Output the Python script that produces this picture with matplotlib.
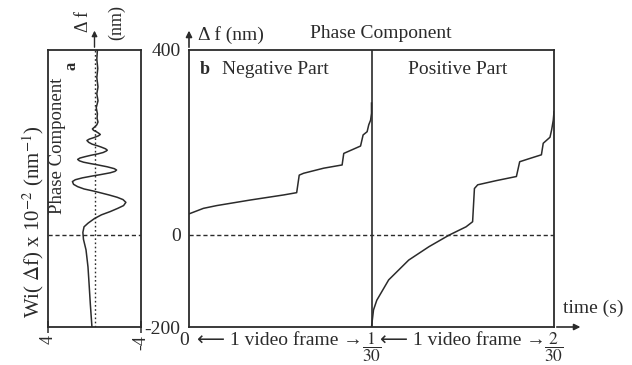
import matplotlib.pyplot as plt

plt.rcParams['font.family'] = ['Liberation Serif', 'DejaVu Serif']
plt.rcParams['mathtext.fontset'] = 'stix'

INK = '#2b2b2b'

# panel a: Wi(df) phase component, df in nm, Wi in 1e-2 nm^-1
df_a = [-200, -150, -105, -70, -33, -10, 5, 17, 25, 35, 43, 50, 57, 63, 70,
        76, 81, 86, 94, 99, 104, 109, 115, 119, 123, 127, 130, 134, 137, 140,
        143, 147, 151, 154, 157, 160, 163, 166, 169, 172, 175, 178, 181, 183,
        186, 190, 193, 196, 200, 204, 207, 210, 214, 217, 220, 223, 226, 229,
        233, 238, 244, 252, 262, 275, 290, 305, 320, 340, 360, 380, 400]
wi_a = [0.22, 0.36, 0.47, 0.56, 0.73, 0.95, 1.0, 0.9, 0.55, 0.0, -0.6, -1.35,
        -2.0, -2.5, -2.7, -2.45, -1.95, -1.25, 0.0, 0.9, 1.45, 1.8, 1.9, 1.65,
        1.05, 0.2, -0.5, -1.35, -1.75, -1.9, -1.7, -1.1, -0.3, 0.35, 0.95, 1.3,
        1.45, 1.25, 0.8, 0.3, -0.3, -0.75, -1.0, -1.1, -0.95, -0.55, -0.2, 0.2,
        0.5, 0.65, 0.45, 0.08, -0.33, -0.5, -0.35, -0.16, 0.08, 0.18, 0.0,
        -0.2, -0.3, -0.22, -0.25, -0.15, -0.3, -0.2, -0.3, -0.2, -0.28, -0.2,
        -0.25]

# panel b: time in video frames (1 frame = 1/30 s), df in nm
neg_t = [0, 0.079, 0.152, 0.335, 0.518, 0.59, 0.604, 0.628, 0.738, 0.839,
         0.848, 0.94, 0.954, 0.976, 0.985, 0.995, 1.0, 1.0]
neg_df = [45, 57, 63, 75, 86, 91, 129, 133, 144, 151, 176, 192, 216, 223,
          238, 248, 263, 285]
pos_t = [1.0, 1.011, 1.029, 1.094, 1.204, 1.315, 1.425, 1.518, 1.554, 1.564,
         1.582, 1.683, 1.794, 1.812, 1.867, 1.931, 1.941, 1.978, 1.987,
         1.996, 2.0]
pos_df = [-200, -163, -142, -98, -55, -26, -1, 17, 28, 100, 108, 117, 126,
          158, 165, 173, 198, 211, 227, 248, 266]

frame_ticks = [1, 2]
frame_nums = ['1', '2']

fig = plt.figure(figsize=(6.32, 3.65), dpi=100)

# ---------- panel a ----------
axa = fig.add_axes([48 / 632, 1 - 327 / 365, 93 / 632, 277 / 365])
axa.plot(wi_a, df_a, color=INK, lw=1.1)
axa.axhline(0, color=INK, lw=1.0, ls=(0, (3, 2)))
axa.axvline(0, color=INK, lw=1.0, ls=(0, (1.2, 1.8)))
axa.set_xlim(4, -4)
axa.set_ylim(-200, 400)
axa.set_xticks([4, -4])
axa.set_xticklabels(['4', '-4'], rotation=90, fontsize=13, color=INK)
axa.tick_params(axis='x', direction='inout', length=8, width=1.1, pad=2, colors=INK)
axa.set_yticks([])
for s in axa.spines.values():
    s.set_linewidth(1.3)
    s.set_color(INK)
axa.annotate('', xy=(0, 1.08), xytext=(0, 1.0), xycoords=('data', 'axes fraction'),
             arrowprops=dict(arrowstyle='-|>', color=INK, lw=1.0, mutation_scale=8))

fig.text(33 / 632, 1 - 222 / 365, r'Wi( $\Delta$f) x 10$^{-2}$ (nm$^{-1}$)',
         rotation=90, ha='center', va='center', fontsize=15, color=INK)
fig.text(57 / 632, 1 - 146 / 365, 'Phase Component', rotation=90,
         ha='center', va='center', fontsize=13.5, color=INK)
fig.text(72 / 632, 1 - 66 / 365, 'a', rotation=90, ha='center', va='center',
         fontsize=12, fontweight='bold', color=INK)
fig.text(84 / 632, 1 - 22 / 365, '\u0394 f', rotation=90, ha='center',
         va='center', fontsize=13, color=INK)
fig.text(117 / 632, 1 - 22 / 365, '(nm)', rotation=90, ha='center',
         va='center', fontsize=13, color=INK)

# ---------- panel b ----------
axb = fig.add_axes([189 / 632, 1 - 327 / 365, 365 / 632, 277 / 365])
axb.plot(neg_t, neg_df, color=INK, lw=1.1)
axb.plot(pos_t, pos_df, color=INK, lw=1.1)
axb.axhline(0, color=INK, lw=1.0, ls=(0, (3, 2)))
axb.axvline(1, color=INK, lw=1.2)
axb.set_xlim(0, 2)
axb.set_ylim(-200, 400)
axb.set_yticks([-200, 0, 400])
axb.set_yticklabels(['-200', '0', '400'], fontsize=14, color=INK)
axb.tick_params(axis='y', length=0, pad=6)
axb.set_xticks([])
for s in axb.spines.values():
    s.set_linewidth(1.3)
    s.set_color(INK)
axb.annotate('', xy=(0, 1.08), xytext=(0, 1.0), xycoords='axes fraction',
             arrowprops=dict(arrowstyle='-|>', color=INK, lw=1.2, mutation_scale=9))
axb.annotate('', xy=(1.08, 0), xytext=(1.0, 0), xycoords='axes fraction',
             arrowprops=dict(arrowstyle='-|>', color=INK, lw=1.2, mutation_scale=9))

axb.text(0.025, 1.054, '\u0394 f (nm)', transform=axb.transAxes, ha='left',
         va='center', fontsize=14, color=INK)
axb.text(0.526, 1.061, 'Phase Component', transform=axb.transAxes, ha='center',
         va='center', fontsize=14, color=INK)
axb.text(0.03, 0.928, 'b', transform=axb.transAxes, ha='left', va='center',
         fontsize=13, fontweight='bold', color=INK)
axb.text(0.09, 0.928, 'Negative Part', transform=axb.transAxes, ha='left',
         va='center', fontsize=14, color=INK)
axb.text(0.737, 0.928, 'Positive Part', transform=axb.transAxes, ha='center',
         va='center', fontsize=14, color=INK)
axb.text(1.025, 0.069, 'time (s)', transform=axb.transAxes, ha='left',
         va='center', fontsize=14, color=INK)

lab_y = -0.047
xt = axb.get_xaxis_transform()
axb.text(-0.014, lab_y, '0', transform=axb.transAxes, ha='center', va='center',
         fontsize=14, color=INK)
for xc in [0.5, 1.5]:
    axb.text(xc, lab_y, '\u27f5 1 video frame \u2192', transform=xt,
             ha='center', va='center', fontsize=14, color=INK,
             family=['Liberation Serif', 'DejaVu Sans'])
# fractions n/30 under the frame boundaries
for xc, num in zip(frame_ticks, frame_nums):
    axb.text(xc, -0.074, r'$\dfrac{%s}{30}$' % num, transform=xt, ha='center',
             va='center', fontsize=12.5, color=INK)

fig.savefig('out.png', dpi=100, facecolor='white')
